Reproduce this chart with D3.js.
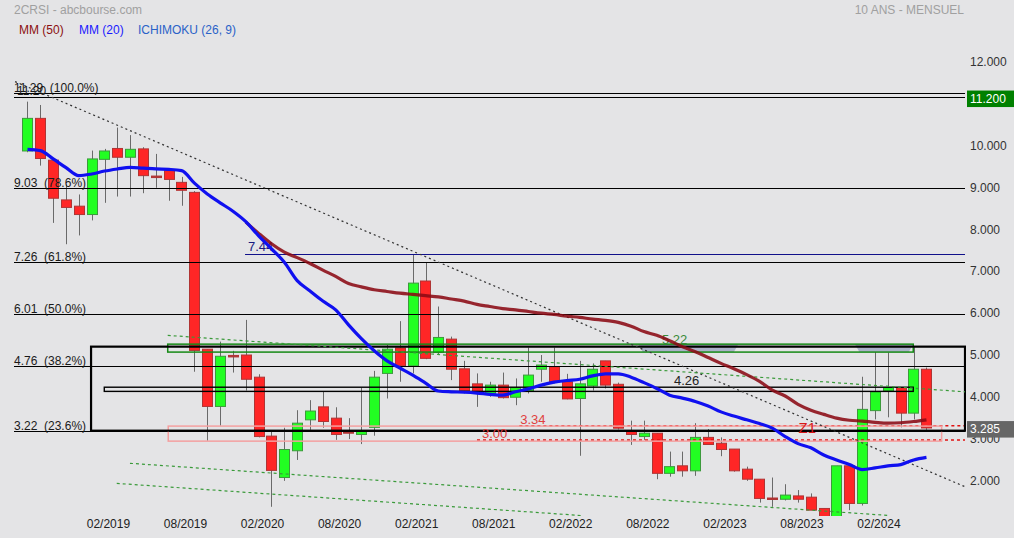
<!DOCTYPE html>
<html><head><meta charset="utf-8">
<script src="https://cdn.jsdelivr.net/npm/d3@7"></script>
<style>
html,body{margin:0;padding:0;background:#e4e4e6;}
svg{display:block;font-family:"Liberation Sans",Arial,sans-serif;}
</style></head><body>
<svg id="c" width="1014" height="538"></svg>
<script>
// ---------- DATA ----------
const months = ["08/2018","09/2018","10/2018","11/2018","12/2018","01/2019","02/2019","03/2019","04/2019","05/2019","06/2019","07/2019",
"08/2019","09/2019","10/2019","11/2019","12/2019","01/2020","02/2020","03/2020","04/2020","05/2020","06/2020","07/2020",
"08/2020","09/2020","10/2020","11/2020","12/2020","01/2021","02/2021","03/2021","04/2021","05/2021","06/2021","07/2021",
"08/2021","09/2021","10/2021","11/2021","12/2021","01/2022","02/2022","03/2022","04/2022","05/2022","06/2022","07/2022",
"08/2022","09/2022","10/2022","11/2022","12/2022","01/2023","02/2023","03/2023","04/2023","05/2023","06/2023","07/2023",
"08/2023","09/2023","10/2023","11/2023","12/2023","01/2024","02/2024","03/2024","04/2024","05/2024","06/2024"];
const open  = [9.91,10.69,9.69,8.74,8.59,8.39,9.71,9.97,9.76,9.96,9.31,9.44,9.16,8.92,5.17,3.80,5.02,5.03,4.50,3.09,2.10,2.74,3.48,3.79,3.52,3.20,3.13,3.30,4.59,5.20,4.77,6.80,5.09,5.41,4.70,4.34,4.11,4.31,4.02,4.17,4.69,4.75,4.39,3.99,4.29,4.89,4.33,3.20,3.08,3.16,2.20,2.38,2.26,3.06,2.92,2.78,2.30,2.06,1.61,1.58,1.66,1.63,1.36,1.15,2.38,1.48,3.70,4.17,4.25,3.64,4.69];
const high  = [11.09,11.01,9.69,9.11,8.87,9.92,9.96,10.47,10.29,10.00,9.84,9.44,9.29,8.95,5.17,5.35,5.13,5.87,4.57,3.20,3.29,3.71,3.95,4.15,3.78,3.52,4.25,4.65,5.27,5.84,7.44,7.24,6.19,5.47,4.89,4.59,4.39,4.61,4.47,5.21,5.03,5.21,4.58,4.89,4.83,4.89,4.37,3.46,3.46,3.16,2.72,2.72,3.40,3.26,3.06,2.78,2.36,2.06,2.10,1.94,1.80,1.72,1.36,2.38,2.44,4.51,5.15,5.09,4.25,5.23,4.73];
const low   = [9.88,9.56,8.19,7.68,7.89,8.25,8.67,8.82,8.82,8.90,9.03,8.72,8.60,4.63,2.98,3.34,4.61,4.18,3.06,1.40,2.02,2.52,3.24,3.29,3.00,3.02,2.90,3.10,3.99,4.39,4.59,4.93,5.03,4.43,4.11,3.79,4.03,3.99,3.83,4.11,4.39,4.35,3.97,2.62,4.18,4.23,3.25,2.88,3.00,2.06,2.12,2.12,2.14,2.89,2.61,2.24,2.02,1.50,1.40,1.55,1.50,1.32,1.15,1.15,1.32,1.43,3.49,3.54,3.30,3.49,3.24];
const close = [10.69,9.73,8.78,8.56,8.39,9.72,9.91,9.76,9.95,9.32,9.28,9.23,8.97,5.14,3.80,5.00,4.99,4.45,3.08,2.27,2.77,3.40,3.69,3.44,3.13,3.16,3.22,4.50,5.17,4.77,6.75,4.95,5.45,4.69,4.18,4.15,4.31,4.01,4.25,4.55,4.79,4.39,3.98,4.34,4.69,4.31,3.28,3.13,3.16,2.20,2.36,2.26,3.06,2.89,2.77,2.26,2.06,1.60,1.58,1.68,1.58,1.32,1.15,2.38,1.48,3.73,4.15,4.25,3.64,4.69,3.285];
const ma20 = [9.95,9.92,9.72,9.51,9.32,9.36,9.43,9.48,9.52,9.50,9.48,9.47,9.44,9.14,8.88,8.67,8.47,8.22,7.88,7.57,7.25,6.81,6.56,6.32,6.11,5.75,5.42,5.13,4.89,4.72,4.55,4.36,4.17,4.15,4.14,4.12,4.09,4.07,4.15,4.22,4.31,4.38,4.42,4.45,4.53,4.58,4.58,4.50,4.37,4.23,4.07,4.00,3.92,3.81,3.67,3.57,3.48,3.39,3.28,3.08,2.91,2.81,2.64,2.52,2.41,2.29,2.33,2.38,2.41,2.52,2.58];
const ma50 = [null,null,null,null,null,null,null,null,null,null,null,null,null,null,null,null,null,
8.21,7.94,7.69,7.49,7.36,7.22,7.06,6.91,6.74,6.66,6.59,6.55,6.51,6.48,6.45,6.42,6.37,6.32,6.24,6.19,6.14,6.11,6.07,6.03,6.00,5.96,5.93,5.89,5.86,5.81,5.72,5.59,5.50,5.37,5.23,5.11,4.97,4.83,4.70,4.56,4.40,4.19,4.05,3.85,3.71,3.61,3.52,3.47,3.45,3.42,3.40,3.41,3.44,3.48];

const fibLevels = [11.29, 9.03, 7.26, 6.01, 4.76, 3.22];
const fibLabels = ["11.29\u00a0\u00a0(100.0%)", "9.03\u00a0\u00a0(78.6%)", "7.26\u00a0\u00a0(61.8%)", "6.01\u00a0\u00a0(50.0%)", "4.76\u00a0\u00a0(38.2%)", "3.22\u00a0\u00a0(23.6%)"];
const extraLevel = 11.20, extraLabel = "11.20";
const yTicks = [12, 10, 9, 8, 7, 6, 5, 4, 3, 2];
const xTickLabels = ["02/2019","08/2019","02/2020","08/2020","02/2021","08/2021","02/2022","08/2022","02/2023","08/2023","02/2024"];

// drawn objects, in data units (index, price)
const resistance744 = {i0: 16.94, v: 7.44, label: "7.44"};
const greenZone = {i0: 10.92, i1: 68.97, v0: 5.10, v1: 5.29, label: "5.22", li: 49.4};
const cloudPatches = [{i0: 47.56, i1: 55.35}, {i0: 64.43, i1: 68.97}];
const thinBox = {i0: 5.98, i1: 68.97, v0: 4.16, v1: 4.26, label: "4.26", li: 50.34};
const bigBox = {i0: 4.95, i1: 73.0, v0: 3.22, v1: 5.23};
const pinkZone = {i0: 10.96, i1: 71.18, v0: 2.97, v1: 3.33};
const redLevels = [{i0: 38.3, v: 3.34, label: "3.34", li: 38.37}, {i0: 35.0, v: 3.00, label: "3.00", li: 35.39}];
const z1 = {i: 60.04, v: 3.22, label: "Z1"};
const trendline = [{i: -0.97, v: 11.57}, {i: 73.0, v: 1.88}];
const channels = [
  [{i: 10.92, v: 5.50}, {i: 73.0, v: 4.15}],
  [{i: 7.98, v: 2.44}, {i: 67.16, v: 1.19}],
  [{i: 6.95, v: 1.96}, {i: 43.15, v: 1.19}]
];
const lastPrice = 3.285, markPrice = 11.20;

// ---------- CHART ----------
const svg = d3.select("#c");
const x = d3.scaleLinear().domain([-1.05, 73.0]).range([14, 965]);
const y = d3.scaleLinear().domain([2, 12]).range([481.7, 63.6]);
const FONT = 12;

svg.append("rect").attr("width",1014).attr("height",538).attr("fill","#e4e4e6");

svg.append("defs").append("clipPath").attr("id","plot")
  .append("rect").attr("x",0).attr("y",40).attr("width",x(73.0)+1).attr("height",516-40);

// header
const hdr = svg.append("g").attr("font-size",FONT);
hdr.append("text").attr("x",14).attr("y",13.5).attr("fill","#a0a0a0").text("2CRSI - abcbourse.com");
hdr.append("text").attr("x",964).attr("y",13.5).attr("text-anchor","end").attr("fill","#a0a0a0").text("10 ANS - MENSUEL");
hdr.append("text").attr("x",19).attr("y",33.5).attr("fill","#8b1010").text("MM (50)");
hdr.append("text").attr("x",79).attr("y",33.5).attr("fill","#1a1aff").text("MM (20)");
hdr.append("text").attr("x",138).attr("y",33.5).attr("fill","#2a62c8").text("ICHIMOKU (26, 9)");

const plot = svg.append("g").attr("clip-path","url(#plot)");

// candles
const idx = d3.range(open.length);
const bw = (x(1) - x(0)) * 0.8;
const cg = plot.append("g");
cg.selectAll("line.w").data(idx).join("line")
  .attr("x1", i => Math.round(x(i)) + 0.5).attr("x2", i => Math.round(x(i)) + 0.5)
  .attr("y1", i => y(high[i])).attr("y2", i => y(low[i]))
  .attr("stroke", "#6a6a6a").attr("stroke-width", 1);
cg.selectAll("rect.b").data(idx).join("rect")
  .attr("x", i => Math.round(x(i) - bw / 2) + 0.5)
  .attr("width", Math.round(bw))
  .attr("y", i => y(Math.max(open[i], close[i])))
  .attr("height", i => Math.max(1.5, y(Math.min(open[i], close[i])) - y(Math.max(open[i], close[i]))))
  .attr("fill", i => Math.abs(close[i] - open[i]) < 0.06 ? "#b03434" : (close[i] >= open[i] ? "#22ff22" : "#ff2626"))
  .attr("stroke", i => close[i] >= open[i] && Math.abs(close[i] - open[i]) >= 0.06 ? "#3c9a3c" : "#b03434")
  .attr("stroke-width", 1);

// fib horizontal lines
const lg = plot.append("g");
[...fibLevels, extraLevel].forEach(v => {
  lg.append("line").attr("x1", 14).attr("x2", x(73.0))
    .attr("y1", Math.round(y(v)) + 0.5).attr("y2", Math.round(y(v)) + 0.5)
    .attr("stroke", "#000").attr("stroke-width", 1.2);
});
// 7.44 line
lg.append("line").attr("x1", x(resistance744.i0)).attr("x2", x(73.0))
  .attr("y1", Math.round(y(resistance744.v)) + 0.5).attr("y2", Math.round(y(resistance744.v)) + 0.5)
  .attr("stroke", "#10108a").attr("stroke-width", 1.2);

// red dotted levels
redLevels.forEach(r => {
  lg.append("line").attr("x1", x(r.i0)).attr("x2", x(73.0))
    .attr("y1", y(r.v)).attr("y2", y(r.v))
    .attr("stroke", "#e01010").attr("stroke-width", 1.5).attr("stroke-dasharray", "3,3");
});

// zones
lg.append("rect").attr("x", x(pinkZone.i0)).attr("y", y(pinkZone.v1))
  .attr("width", x(pinkZone.i1) - x(pinkZone.i0)).attr("height", y(pinkZone.v0) - y(pinkZone.v1))
  .attr("fill", "none").attr("stroke", "#f4a0a0").attr("stroke-width", 1.5);

cloudPatches.forEach(p => {
  const s = 0.35;
  const pts = [[x(p.i0), y(greenZone.v1)], [x(p.i1), y(greenZone.v1)], [x(p.i1 - s), y(greenZone.v0)], [x(p.i0 + s), y(greenZone.v0)]];
  lg.append("polygon").attr("points", pts.map(d => d.join(",")).join(" ")).attr("fill", "#aab2c8");
});
lg.append("rect").attr("x", x(greenZone.i0)).attr("y", y(greenZone.v1))
  .attr("width", x(greenZone.i1) - x(greenZone.i0)).attr("height", y(greenZone.v0) - y(greenZone.v1))
  .attr("fill", "none").attr("stroke", "#168a16").attr("stroke-width", 1.5);

lg.append("rect").attr("x", x(thinBox.i0)).attr("y", y(thinBox.v1))
  .attr("width", x(thinBox.i1) - x(thinBox.i0)).attr("height", y(thinBox.v0) - y(thinBox.v1))
  .attr("fill", "none").attr("stroke", "#000").attr("stroke-width", 1.4);

lg.append("rect").attr("x", x(bigBox.i0)).attr("y", y(bigBox.v1))
  .attr("width", x(bigBox.i1) - x(bigBox.i0)).attr("height", y(bigBox.v0) - y(bigBox.v1))
  .attr("fill", "none").attr("stroke", "#000").attr("stroke-width", 2.2);

// dotted lines
const ln = d3.line().x(d => x(d.i)).y(d => y(d.v));
plot.append("path").attr("d", ln(trendline)).attr("fill", "none")
  .attr("stroke", "#333").attr("stroke-width", 1.2).attr("stroke-dasharray", "2,3");
channels.forEach(c => {
  plot.append("path").attr("d", ln(c)).attr("fill", "none")
    .attr("stroke", "#3a9a3a").attr("stroke-width", 1.2).attr("stroke-dasharray", "3,3");
});

// labels on plot
const tg = plot.append("g").attr("font-size", 13);
tg.append("text").attr("x", x(resistance744.i0) + 3).attr("y", y(resistance744.v) - 3)
  .attr("fill", "#1a1a80").text(resistance744.label);
tg.append("text").attr("x", x(greenZone.li)).attr("y", y(greenZone.v1) - 0.5)
  .attr("fill", "#3a8a3a").text(greenZone.label);
tg.append("text").attr("x", x(thinBox.li)).attr("y", y(thinBox.v1) - 2)
  .attr("fill", "#222").text(thinBox.label);
redLevels.forEach(r => {
  tg.append("text").attr("x", x(r.li)).attr("y", y(r.v) - 2).attr("fill", "#e04040").text(r.label);
});
tg.append("text").attr("x", x(z1.i)).attr("y", y(z1.v) + 2.5).attr("font-size", 15)
  .attr("fill", "#d81818").text(z1.label);

// moving averages
const maLine = d3.line().defined(d => d.v != null).x(d => x(d.i)).y(d => y(d.v)).curve(d3.curveMonotoneX);
plot.append("path").attr("d", maLine(ma50.map((v, i) => ({i, v}))))
  .attr("fill", "none").attr("stroke", "#8b0a14").attr("stroke-opacity", 0.88).attr("stroke-width", 3.2);
plot.append("path").attr("d", maLine(ma20.map((v, i) => ({i, v}))))
  .attr("fill", "none").attr("stroke", "#1010f0").attr("stroke-width", 3.2);

// fib labels
const fg = svg.append("g").attr("font-size", FONT).attr("fill", "#1a1a1a");
fibLevels.forEach((v, k) => {
  fg.append("text").attr("x", 14).attr("y", Math.round(y(v)) - 1.5).text(fibLabels[k]);
});
fg.append("text").attr("x", 17).attr("y", Math.round(y(extraLevel)) - 2).text(extraLabel);

// axes
const yAxis = d3.axisRight(y).tickValues(yTicks).tickFormat(d3.format(".3f")).tickSize(0).tickPadding(5);
const ya = svg.append("g").attr("transform", `translate(${x(73.0)},-1.5)`).call(yAxis);
ya.select(".domain").remove();
ya.selectAll("text").attr("font-size", FONT).attr("fill", "#333").attr("font-family", '"Liberation Sans",Arial,sans-serif');

const tickIdx = xTickLabels.map(l => months.indexOf(l));
const xAxis = d3.axisBottom(x).tickValues(tickIdx).tickFormat((d, k) => xTickLabels[k]).tickSize(0).tickPadding(0);
const xa = svg.append("g").attr("transform", "translate(3.4,519)").call(xAxis);
xa.select(".domain").remove();
xa.selectAll("text").attr("font-size", FONT).attr("fill", "#222").attr("font-family", '"Liberation Sans",Arial,sans-serif');

// price tags
const tag = (v, fill, dyc) => {
  const cy = y(v) + dyc;
  svg.append("rect").attr("x", 967).attr("y", cy - 8.2).attr("width", 47).attr("height", 16.5).attr("fill", fill);
  svg.append("text").attr("x", 970).attr("y", cy + 4.2).attr("font-size", FONT).attr("fill", "#fff")
    .text(d3.format(".3f")(v));
};
tag(markPrice, "#008000", 1.7);
tag(lastPrice, "#666666", 1.3);
</script>
</body></html>
